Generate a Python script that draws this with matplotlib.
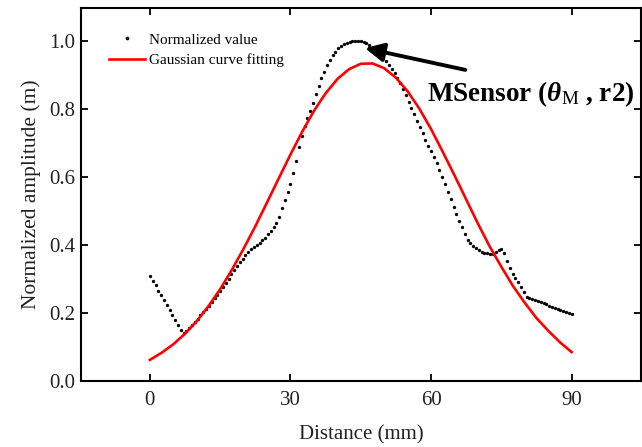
import numpy as np
import matplotlib
matplotlib.use("Agg")
import matplotlib.pyplot as plt

plt.rcParams['font.family'] = ['Liberation Serif', 'DejaVu Serif']
plt.rcParams['mathtext.fontset'] = 'custom'
plt.rcParams['mathtext.rm'] = 'Liberation Serif'
plt.rcParams['mathtext.it'] = 'Liberation Serif:italic'
plt.rcParams['mathtext.bf'] = 'Liberation Serif:bold'
plt.rcParams['mathtext.bfit'] = 'Liberation Serif:italic:bold'

# normalized profile, every 0.6 mm from 0 to 90 mm
norm_vals = [
	0.310, 0.295, 0.281, 0.266, 0.252, 0.237, 0.223, 0.208, 0.193, 0.179,
	0.164, 0.150, 0.142, 0.148, 0.156, 0.165, 0.174, 0.183, 0.193, 0.202,
	0.212, 0.222, 0.232, 0.243, 0.254, 0.265, 0.277, 0.289, 0.301, 0.314,
	0.327, 0.339, 0.350, 0.360, 0.370, 0.379, 0.387, 0.394, 0.401, 0.407,
	0.414, 0.422, 0.431, 0.441, 0.452, 0.465, 0.482, 0.508, 0.533, 0.556,
	0.580, 0.613, 0.648, 0.688, 0.722, 0.750, 0.773, 0.795, 0.818, 0.843,
	0.868, 0.890, 0.910, 0.929, 0.945, 0.958, 0.969, 0.978, 0.985, 0.990,
	0.994, 0.997, 0.999, 1.000, 1.000, 0.999, 0.997, 0.993, 0.987, 0.980,
	0.975, 0.968, 0.960, 0.950, 0.940, 0.930, 0.918, 0.905, 0.890, 0.875,
	0.858, 0.840, 0.822, 0.803, 0.784, 0.765, 0.746, 0.728, 0.710, 0.692,
	0.677, 0.660, 0.640, 0.620, 0.600, 0.580, 0.557, 0.535, 0.513, 0.492,
	0.472, 0.452, 0.432, 0.415, 0.405, 0.397, 0.390, 0.384, 0.380, 0.377,
	0.375, 0.374, 0.374, 0.378, 0.385, 0.388, 0.376, 0.352, 0.332, 0.316,
	0.303, 0.290, 0.276, 0.262, 0.248, 0.244, 0.241, 0.238, 0.235, 0.232,
	0.229, 0.225, 0.222, 0.218, 0.215, 0.212, 0.209, 0.206, 0.203, 0.200,
	0.197,
]
norm_x = np.linspace(0, 90, len(norm_vals))

# gaussian fit curve, read every 2.5 mm
fit_x = [0, 2.5, 5, 7.5, 10, 12.5, 15, 17.5, 20, 22.5, 25, 27.5, 30, 32.5, 35, 37.5,
	40, 42.5, 45, 47.5, 50, 52.5, 55, 57.5, 60, 62.5, 65, 67.5, 70, 72.5, 75, 77.5,
	80, 82.5, 85, 87.5, 90]
fit_vals = [0.062, 0.083, 0.108, 0.139, 0.176, 0.220, 0.270, 0.327, 0.389, 0.455,
	0.525, 0.596, 0.666, 0.733, 0.794, 0.846, 0.888, 0.917, 0.933, 0.934, 0.920,
	0.892, 0.852, 0.801, 0.741, 0.674, 0.605, 0.534, 0.463, 0.396, 0.336, 0.279,
	0.230, 0.185, 0.148, 0.114, 0.085]

x_ticks = [0, 30, 60, 90]
y_ticks = [0.0, 0.2, 0.4, 0.6, 0.8, 1.0]

fig = plt.figure(figsize=(6.42, 4.47), dpi=100)
ax = fig.add_axes([81 / 642, 1 - 381 / 447, 560 / 642, 373 / 447])

ax.plot(norm_x, norm_vals, 'o', color='black', ms=2.4, mew=0, label='Normalized value')
ax.plot(fit_x, fit_vals, '-', color='#ff0000', lw=1.9, label='Gaussian curve fitting')

ax.set_xlim(-14.7, 104.8)
ax.set_ylim(0, 1.097)
ax.set_xticks(x_ticks)
ax.set_yticks(y_ticks)
ax.set_yticklabels(['%.1f' % v for v in y_ticks])
ax.tick_params(direction='in', top=True, right=True, labelsize=15, length=5, width=1.3,
	pad=4, labelcolor='#222222')
ax.tick_params(axis='x', pad=7)
for s in ax.spines.values():
	s.set_linewidth(1.5)

ax.set_xlabel('Distance (mm)', fontsize=15, labelpad=11, color='#222222')
ax.set_ylabel('Normalized amplitude (m)', fontsize=15.5, labelpad=6, color='#222222')

ax.legend(loc='upper left', bbox_to_anchor=(0.025, 0.97), frameon=False, fontsize=11,
	numpoints=1, handlelength=2.4, handletextpad=0.25, labelspacing=0.45, markerscale=1.1)

ax.annotate('', xy=(45.9, 0.979), xytext=(67.3, 0.915),
	arrowprops=dict(arrowstyle='-|>', lw=2.8, color='black', mutation_scale=28,
		shrinkA=0, shrinkB=0))
ax.text(59.1, 0.845, r'MSensor ($\boldsymbol{\theta}_{\mathrm{M}}$ , r2)', fontsize=19.5,
	fontweight='bold', ha='left', va='center', clip_on=False)

fig.savefig('out.png', dpi=100)
